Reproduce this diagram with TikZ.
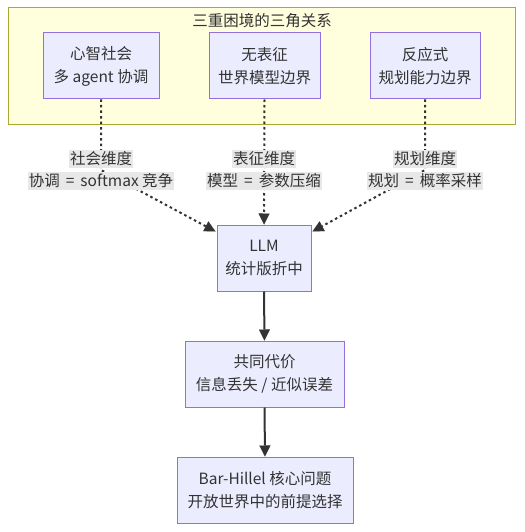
\documentclass[tikz,border=0pt]{standalone}
\usepackage{fontspec}
\setmainfont{Noto Sans CJK SC}
\usetikzlibrary{arrows.meta}
\definecolor{nodefill}{HTML}{ECECFF}
\definecolor{nodeline}{HTML}{9370DB}
\definecolor{clusfill}{HTML}{FFFFDE}
\definecolor{clusline}{HTML}{AAAA33}
\definecolor{ink}{HTML}{333333}
\definecolor{lblbg}{HTML}{E8E8E8}
\newcommand{\myeq}{\hspace{6pt}=\hspace{6pt}}
\begin{document}
\begin{tikzpicture}[x=1pt,y=-1pt,
  every node/.style={font=\fontsize{15.5}{23}\selectfont, text=ink},
  box/.style={draw=nodeline, fill=nodefill, line width=1pt, minimum height=66pt, align=center, inner sep=0pt},
  lbl/.style={fill=lblbg, inner xsep=1pt, inner ysep=1.5pt},
  dotline/.style={draw=ink, line width=2pt, dash pattern=on 2.5pt off 3pt},
  solidline/.style={draw=ink, line width=2pt},
  tip/.style={-{Triangle[length=11pt,width=11pt,line width=0.01pt,fill=ink]}}]
\useasboundingbox (0,0) rectangle (524,532);

\node[draw=clusline, fill=clusfill, line width=1pt, minimum width=507pt, minimum height=116pt, inner sep=0pt] (cluster) at (261.5,66) {};
\node (title) at (262,21) {三重困境的三角关系};

\node[box, minimum width=116pt] (soc) at (101,66) {心智社会\\多 agent 协调};
\node[box, minimum width=111pt] (rep) at (264.5,66) {无表征\\世界模型边界};
\node[box, minimum width=110pt] (plan) at (425,66) {反应式\\规划能力边界};

\node[box, minimum width=94pt] (llm) at (264,258) {LLM\\统计版折中};
\node[box, minimum width=159pt] (cost) at (264.5,374) {共同代价\\信息丢失 / 近似误差};
\node[box, minimum width=176pt] (bh) at (265,490) {Bar-Hillel 核心问题\\开放世界中的前提选择};

\coordinate (c1) at (101,170);
\coordinate (c3) at (425,170);
\draw[dotline, tip] (soc.south) -- (c1) -- ([xshift=-1pt,yshift=-7pt]llm.north west);
\draw[dotline, tip] (rep.south) -- (llm.north);
\draw[dotline, tip] (plan.south) -- (c3) -- ([xshift=1pt,yshift=-7pt]llm.north east);

\node[lbl] (l1a) at (101,159) {社会维度};
\node[lbl] (l1b) at (101,181) {协调\myeq softmax 竞争};
\node[lbl] (l2a) at (264,159) {表征维度};
\node[lbl] (l2b) at (264,181) {模型\myeq 参数压缩};
\node[lbl] (l3a) at (425,159) {规划维度};
\node[lbl] (l3b) at (425,181) {规划\myeq 概率采样};

\draw[solidline, tip] (llm.south) -- (cost.north);
\draw[solidline, tip] (cost.south) -- (bh.north);
\end{tikzpicture}
\end{document}
